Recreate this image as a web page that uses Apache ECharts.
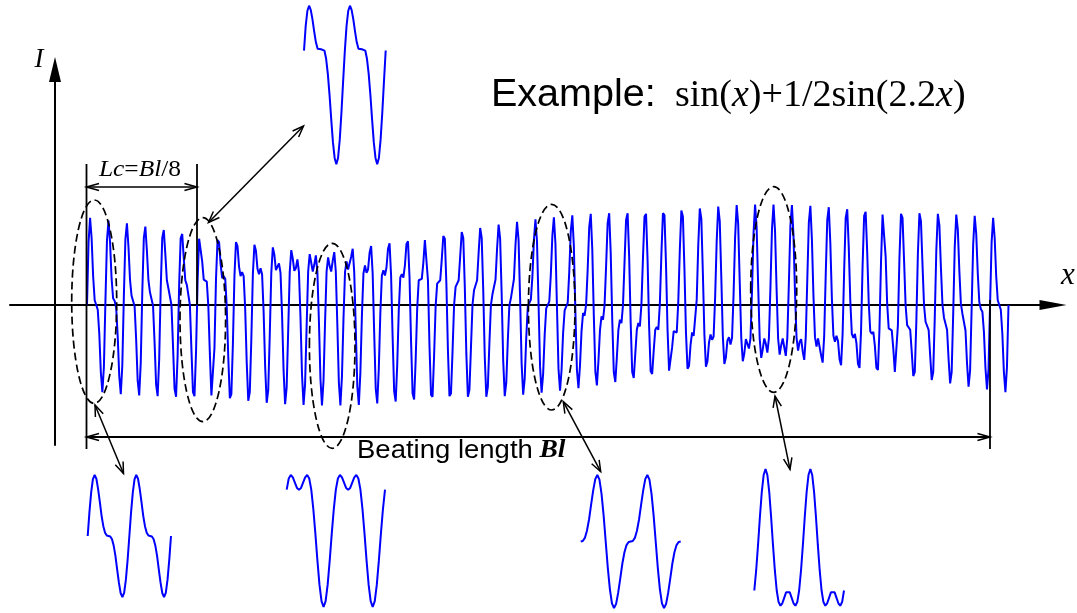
<!DOCTYPE html>
<html>
<head>
<meta charset="utf-8">
<script src="https://cdn.jsdelivr.net/npm/echarts@6/dist/echarts.min.js"></script>
<style>
  html, body { margin: 0; padding: 0; background: #fff; }
  #chart { width: 1077px; height: 613px; }
</style>
</head>
<body>
<div id="chart"></div>
<script>
// Sampled intensity of the beating signal, 12 samples per cycle, one row per cycle.
const mainSamplesPerCycle = 12;
const mainWave = [
  0, .93, 1.30, 1.00, .43, .07, 0, -.07, -.43, -1.00, -1.30, -.93,
  .06, .96, 1.26, .94, .40, .10, .06, -.04, -.47, -1.06, -1.33, -.90,
  .13, .98, 1.22, .87, .38, .14, .13, -.02, -.51, -1.13, -1.35, -.86,
  .19, 1.00, 1.17, .81, .37, .19, .19, -.01, -.56, -1.19, -1.36, -.81,
  .25, 1.00, 1.12, .76, .37, .25, .25, 0, -.61, -1.25, -1.37, -.76,
  .30, 1.00, 1.06, .70, .37, .30, .30, 0, -.67, -1.30, -1.36, -.70,
  .35, .99, 1.00, .65, .38, .36, .35, -.02, -.73, -1.35, -1.35, -.64,
  .39, .97, .94, .61, .40, .43, .39, -.03, -.79, -1.39, -1.33, -.58,
  .43, .94, .88, .57, .43, .49, .43, -.06, -.86, -1.43, -1.30, -.51,
  .46, .90, .81, .54, .46, .55, .46, -.10, -.92, -1.46, -1.27, -.45,
  .48, .86, .75, .52, .50, .62, .48, -.14, -.98, -1.48, -1.23, -.38,
  .49, .82, .69, .51, .55, .68, .49, -.18, -1.04, -1.49, -1.18, -.32,
  .50, .76, .63, .50, .60, .74, .50, -.24, -1.10, -1.50, -1.13, -.26,
  .50, .71, .58, .50, .66, .79, .50, -.29, -1.16, -1.50, -1.07, -.21,
  .49, .65, .53, .51, .72, .84, .49, -.35, -1.21, -1.49, -1.01, -.16,
  .47, .59, .48, .53, .78, .88, .47, -.42, -1.25, -1.47, -.95, -.12,
  .44, .52, .44, .56, .84, .92, .44, -.48, -1.29, -1.44, -.89, -.08,
  .41, .46, .41, .59, .91, .95, .41, -.54, -1.32, -1.41, -.82, -.05,
  .37, .39, .39, .63, .97, .98, .37, -.61, -1.34, -1.37, -.76, -.02,
  .32, .33, .37, .68, 1.03, .99, .32, -.67, -1.36, -1.32, -.70, -.01,
  .27, .27, .37, .73, 1.09, 1.00, .27, -.73, -1.37, -1.27, -.64, 0,
  .22, .22, .37, .78, 1.15, 1.00, .22, -.78, -1.37, -1.22, -.58, 0,
  .16, .17, .38, .84, 1.20, .99, .16, -.83, -1.36, -1.16, -.53, -.01,
  .10, .12, .39, .90, 1.24, .97, .10, -.88, -1.34, -1.10, -.49, -.03,
  .03, .08, .42, .97, 1.28, .95, .03, -.92, -1.31, -1.03, -.45, -.05,
  -.03, .05, .45, 1.03, 1.31, .92, -.03, -.95, -1.28, -.97, -.42, -.08,
  -.10, .03, .49, 1.10, 1.34, .88, -.10, -.97, -1.24, -.90, -.39, -.12,
  -.16, .01, .53, 1.16, 1.36, .83, -.16, -.99, -1.20, -.84, -.38, -.17,
  -.22, 0, .58, 1.22, 1.37, .78, -.22, -1.00, -1.15, -.78, -.37, -.22,
  -.27, 0, .64, 1.27, 1.37, .73, -.27, -1.00, -1.09, -.73, -.37, -.27,
  -.32, .01, .70, 1.32, 1.36, .67, -.32, -.99, -1.03, -.68, -.37, -.33,
  -.37, .02, .76, 1.37, 1.34, .61, -.37, -.98, -.97, -.63, -.39, -.39,
  -.41, .05, .82, 1.41, 1.32, .54, -.41, -.95, -.91, -.59, -.41, -.46,
  -.44, .08, .89, 1.44, 1.29, .48, -.44, -.92, -.84, -.56, -.44, -.52,
  -.47, .12, .95, 1.47, 1.25, .42, -.47, -.88, -.78, -.53, -.48, -.59,
  -.49, .16, 1.01, 1.49, 1.21, .35, -.49, -.84, -.72, -.51, -.53, -.65,
  -.50, .21, 1.07, 1.50, 1.16, .29, -.50, -.79, -.66, -.50, -.58, -.71,
  -.50, .26, 1.13, 1.50, 1.10, .24, -.50, -.74, -.60, -.50, -.63, -.76,
  -.49, .32, 1.18, 1.49, 1.04, .18, -.49, -.68, -.55, -.51, -.69, -.82,
  -.48, .38, 1.23, 1.48, .98, .14, -.48, -.62, -.50, -.52, -.75, -.86,
  -.46, .45, 1.27, 1.46, .92, .10, -.46, -.55, -.46, -.54, -.81, -.90,
  -.43, .51, 1.30, 1.43, .86, .06, -.43, -.49, -.43, -.57, -.88, -.94,
  -.39, .58, 1.33, 1.39, .79, .03, -.39, -.43, -.40, -.61, -.94, -.97,
  -.35, .64, 1.35, 1.35, .73, .02, -.35, -.36, -.38, -.65, -1.00, -.99,
  -.30, .70, 1.36, 1.30, .67, 0, -.30, -.30, -.37, -.70, -1.06, -1.00,
  -.25, .76, 1.37, 1.25, .61, 0, -.25, -.25, -.37, -.75, -1.12, -1.00,
  -.19, .81, 1.36, 1.19, .56, .01, -.19, -.19, -.37, -.81, -1.17, -1.00,
  -.13, .86, 1.35, 1.13, .51, .02, -.13, -.14, -.38, -.87, -1.22, -.98,
  -.06, .90, 1.33, 1.06, .47, .04, -.06, -.10, -.40, -.94, -1.26, -.96,
  0, .93, 1.30, 1.00, .43, .07, 0, -.07, -.43, -1.00, -1.30, -.93,
  0
];

// Two-cycle close-ups of the waveform at successive points of the beat, 24 samples per cycle.
const insetSamplesPerCycle = 24;
const waveAtStart = [
  0, .51, .93, 1.21, 1.30, 1.22, 1.00, .72, .43, .21, .07, .01,
  0, -.01, -.07, -.21, -.43, -.72, -1.00, -1.22, -1.30, -1.21, -.93, -.51,
  0, .51, .93, 1.21, 1.30, 1.22, 1.00, .72, .43, .21, .07, .01,
  0, -.01, -.07, -.21, -.43, -.72, -1.00, -1.22, -1.30, -1.21, -.93, -.51,
  0
];
const waveAtLc = [
  .35, .74, .98, 1.06, .99, .84, .65, .48, .38, .35, .37, .39,
  .35, .22, -.02, -.35, -.74, -1.10, -1.35, -1.45, -1.35, -1.06, -.63, -.13,
  .35, .74, .98, 1.06, .99, .84, .65, .48, .38, .35, .37, .39,
  .35, .22, -.02, -.35, -.74, -1.10, -1.35, -1.45, -1.35, -1.06, -.63, -.13,
  .35
];
const waveAtQuarter = [
  .50, .69, .75, .71, .62, .53, .50, .53, .62, .71, .75, .69,
  .50, .17, -.25, -.71, -1.12, -1.40, -1.50, -1.40, -1.12, -.71, -.25, .17,
  .50, .69, .75, .71, .62, .53, .50, .53, .62, .71, .75, .69,
  .50, .17, -.25, -.71, -1.12, -1.40, -1.50, -1.40, -1.12, -.71, -.25, .17,
  .50
];
const waveAtHalf = [
  0, .01, .07, .21, .43, .72, 1.00, 1.22, 1.30, 1.21, .93, .51,
  0, -.51, -.93, -1.21, -1.30, -1.22, -1.00, -.72, -.43, -.21, -.07, -.01,
  0, .01, .07, .21, .43, .72, 1.00, 1.22, 1.30, 1.21, .93, .51,
  0, -.51, -.93, -1.21, -1.30, -1.22, -1.00, -.72, -.43, -.21, -.07, -.01,
  0
];
const waveAtThreeQuarter = [
  -.50, -.17, .25, .71, 1.12, 1.40, 1.50, 1.40, 1.12, .71, .25, -.17,
  -.50, -.69, -.75, -.71, -.62, -.53, -.50, -.53, -.62, -.71, -.75, -.69,
  -.50, -.17, .25, .71, 1.12, 1.40, 1.50, 1.40, 1.12, .71, .25, -.17,
  -.50, -.69, -.75, -.71, -.62, -.53, -.50, -.53, -.62, -.71, -.75, -.69,
  -.50
];

const BLUE = '#0000ff';
const SERIF = 'Liberation Serif';
const SANS = 'Liberation Sans';

function toPoints(values, perCycle) {
  return values.map((v, i) => [i / perCycle, v]);
}

const hiddenAxis = (grid, min, max) => ({
  gridIndex: grid, type: 'value', min: min, max: max, show: false
});

// Open V-shaped arrow head at (x, y) pointing along angle ang.
function head(x, y, ang, len, spread, lw) {
  return {
    type: 'polyline',
    shape: { points: [
      [x - len * Math.cos(ang - spread), y - len * Math.sin(ang - spread)],
      [x, y],
      [x - len * Math.cos(ang + spread), y - len * Math.sin(ang + spread)]
    ] },
    style: { stroke: '#000', fill: null, lineWidth: lw }
  };
}

function line(x1, y1, x2, y2, lw) {
  return { type: 'line', shape: { x1, y1, x2, y2 }, style: { stroke: '#000', lineWidth: lw } };
}

// Two-headed pointer between an ellipse and its close-up.
function pointer(x1, y1, x2, y2) {
  const a = Math.atan2(y2 - y1, x2 - x1);
  return [
    line(x1, y1, x2, y2, 1.5),
    head(x2, y2, a, 12, 0.36, 1.5),
    head(x1, y1, a + Math.PI, 12, 0.36, 1.5)
  ];
}

function ellipse(cx, cy, rx, ry) {
  return {
    type: 'ellipse',
    shape: { cx, cy, rx, ry },
    style: { stroke: '#000', fill: null, lineWidth: 1.7, lineDash: [8, 4] }
  };
}

const graphics = [].concat(
  [
    ellipse(94.2, 301.7, 22.5, 101.7),
    ellipse(202.8, 319.7, 22.8, 102),
    ellipse(332.2, 345.8, 22.8, 102.5),
    ellipse(551.7, 307.2, 23.3, 102.8),
    ellipse(773.7, 289.5, 23, 102.8)
  ],
  pointer(208.5, 222.5, 303.5, 126),
  pointer(95, 405, 123.5, 473.5),
  pointer(563.3, 401.7, 600.7, 471.7),
  pointer(775, 396, 790, 469.3),
  [
    // Lc dimension
    line(86.5, 164, 86.5, 449, 1.8),
    line(197, 164, 197, 305, 1.8),
    line(86.5, 187, 197, 187, 1.5),
    head(86.5, 187, Math.PI, 13, 0.27, 1.5),
    head(197, 187, 0, 13, 0.27, 1.5),
    // Bl dimension
    line(990, 300, 990, 449, 1.8),
    line(86.5, 437, 990, 437, 1.8),
    head(86.5, 437, Math.PI, 13, 0.27, 1.5),
    head(990, 437, 0, 13, 0.27, 1.5),
    {
      type: 'text', x: 140, y: 170, scaleX: 1.06,
      style: {
        text: '{i|Lc}{r|=}{i|Bl}{r|/8}',
        align: 'center', verticalAlign: 'middle', fill: '#000',
        rich: {
          i: { fontFamily: SERIF, fontStyle: 'italic', fontSize: 24 },
          r: { fontFamily: SERIF, fontSize: 24 }
        }
      }
    },
    {
      type: 'text', x: 357, y: 451, scaleX: 1.1,
      style: {
        text: '{s|Beating length}{g| }{b|Bl}',
        align: 'left', verticalAlign: 'middle', fill: '#000',
        rich: {
          s: { fontFamily: SANS, fontSize: 25 },
          g: { fontFamily: SANS, fontSize: 25, width: 6 },
          b: { fontFamily: SERIF, fontStyle: 'italic', fontWeight: 'bold', fontSize: 25 }
        }
      }
    },
    {
      type: 'text', x: 491, y: 96, scaleX: 1.04,
      style: { text: 'Example:', fontFamily: SANS, fontSize: 38,
               align: 'left', verticalAlign: 'middle', fill: '#000' }
    },
    {
      type: 'text', x: 675, y: 96,
      style: {
        text: '{f|sin(}{i|x}{f|)+1/2sin(2.2}{i|x}{f|)}',
        align: 'left', verticalAlign: 'middle', fill: '#000',
        rich: {
          f: { fontFamily: SERIF, fontSize: 38 },
          i: { fontFamily: SERIF, fontStyle: 'italic', fontSize: 38 }
        }
      }
    },
    {
      type: 'text', x: 39, y: 60,
      style: { text: 'I', fontFamily: SERIF, fontStyle: 'italic', fontSize: 27,
               align: 'center', verticalAlign: 'middle', fill: '#000' }
    },
    {
      type: 'text', x: 1068, y: 276,
      style: { text: 'x', fontFamily: SERIF, fontStyle: 'italic', fontSize: 31,
               align: 'center', verticalAlign: 'middle', fill: '#000' }
    }
  ]
);

const chart = echarts.init(document.getElementById('chart'), null, { renderer: 'canvas' });

chart.setOption({
  animation: false,
  backgroundColor: '#fff',
  grid: [
    { left: 10, right: 24, top: 69.5, bottom: 168 },
    { left: 87.7, top: 475, width: 83.3, height: 122 },
    { left: 304, top: 5.7, width: 81.7, height: 158.6 },
    { left: 286.7, top: 475, width: 98.3, height: 132 },
    { left: 580.7, top: 475, width: 100, height: 133 },
    { left: 754.3, top: 469, width: 89.7, height: 136.7 }
  ],
  xAxis: [
    {
      gridIndex: 0, type: 'value', min: -4.178, max: 52.415,
      axisLine: { show: true, onZero: true, symbol: ['none', 'triangle'], symbolSize: [10, 27],
                  lineStyle: { color: '#000', width: 2 } },
      axisTick: { show: false }, axisLabel: { show: false }, splitLine: { show: false }
    },
    hiddenAxis(1, 0, 2),
    hiddenAxis(2, 0, 2),
    hiddenAxis(3, 0, 2),
    hiddenAxis(4, 0, 2),
    hiddenAxis(5, 0, 2)
  ],
  yAxis: [
    {
      gridIndex: 0, type: 'value', min: -2.0896, max: 3.515, offset: -45,
      axisLine: { show: true, onZero: false, symbol: ['none', 'triangle'], symbolSize: [12, 25],
                  lineStyle: { color: '#000', width: 2 } },
      axisTick: { show: false }, axisLabel: { show: false }, splitLine: { show: false }
    },
    hiddenAxis(1, -1.30, 1.30),
    hiddenAxis(2, -1.45, 1.06),
    hiddenAxis(3, -1.50, 0.75),
    hiddenAxis(4, -1.30, 1.30),
    hiddenAxis(5, -0.75, 1.50)
  ],
  series: [
    { data: toPoints(mainWave, mainSamplesPerCycle), xAxisIndex: 0, yAxisIndex: 0, width: 2 },
    { data: toPoints(waveAtStart, insetSamplesPerCycle), xAxisIndex: 1, yAxisIndex: 1, width: 2 },
    { data: toPoints(waveAtLc, insetSamplesPerCycle), xAxisIndex: 2, yAxisIndex: 2, width: 2 },
    { data: toPoints(waveAtQuarter, insetSamplesPerCycle), xAxisIndex: 3, yAxisIndex: 3, width: 2 },
    { data: toPoints(waveAtHalf, insetSamplesPerCycle), xAxisIndex: 4, yAxisIndex: 4, width: 2 },
    { data: toPoints(waveAtThreeQuarter, insetSamplesPerCycle), xAxisIndex: 5, yAxisIndex: 5, width: 2 }
  ].map(s => ({
    type: 'line', data: s.data, xAxisIndex: s.xAxisIndex, yAxisIndex: s.yAxisIndex,
    showSymbol: false, clip: false, silent: true,
    lineStyle: { color: BLUE, width: s.width }
  })),
  graphic: graphics.map(g => Object.assign({ z: 100, silent: true }, g))
});
</script>
</body>
</html>
